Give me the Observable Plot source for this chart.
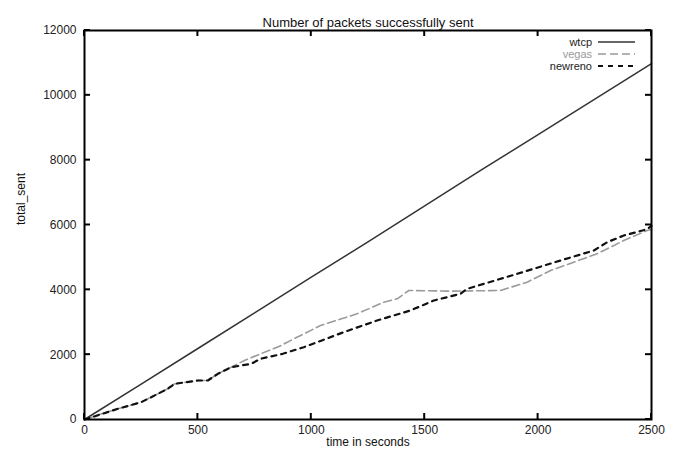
<!DOCTYPE html>
<html><head><meta charset="utf-8">
<script src="https://cdn.jsdelivr.net/npm/d3@7"></script>
<script src="https://cdn.jsdelivr.net/npm/@observablehq/plot@0.6"></script>
<style>
body{margin:0;background:#fff}
#chart svg{font-family:"Liberation Sans",Arial,Helvetica,sans-serif;}
</style>
</head><body><div id="chart"></div>
<script>
// ---- data ----
const title = "Number of packets successfully sent";
const xLabel = "time in seconds";
const yLabel = "total_sent";
const seriesNames = ["wtcp", "vegas", "newreno"];
const xTicks = [0, 500, 1000, 1500, 2000, 2500];
const yTicks = [0, 2000, 4000, 6000, 8000, 10000, 12000];

const wtcpTime = [0, 250, 500, 750, 1000, 1250, 1500, 1750, 2000, 2250, 2500];
const wtcpSent = [0, 1090, 2190, 3290, 4390, 5480, 6590, 7700, 8790, 9880, 10980];

const vegasTime = [0, 50, 147, 250, 294, 367, 397, 500, 544, 588, 647, 705, 776, 867, 923, 1041, 1202, 1320, 1379, 1430, 1614, 1834, 1952, 2055, 2260, 2378, 2481, 2500];
const vegasSent = [0, 120, 330, 534, 688, 947, 1100, 1203, 1203, 1410, 1614, 1820, 2026, 2283, 2489, 2900, 3261, 3619, 3723, 3980, 3960, 3980, 4236, 4597, 5111, 5522, 5831, 5860];

const newrenoTime = [0, 50, 147, 250, 294, 367, 397, 500, 544, 588, 647, 735, 776, 874, 967, 1143, 1290, 1437, 1540, 1658, 1687, 1908, 2099, 2246, 2305, 2378, 2481, 2500];
const newrenoSent = [0, 110, 330, 534, 688, 947, 1100, 1203, 1203, 1410, 1614, 1718, 1872, 2026, 2231, 2694, 3054, 3363, 3671, 3877, 4030, 4494, 4905, 5214, 5470, 5676, 5870, 5970];

// ---- styles ----
const seriesStroke = {wtcp: "#333333", vegas: "#9a9a9a", newreno: "#111111"};
const seriesDash = {wtcp: null, vegas: "8,4", newreno: "5,5"};
const seriesWidth = {wtcp: 1.5, vegas: 1.6, newreno: 2.2};
const labelColor = {wtcp: "#222", vegas: "#999", newreno: "#222"};

const toRows = (name, ts, vs) => ts.map((t, i) => ({series: name, time: t, sent: vs[i]}));
const table = {
  wtcp: toRows("wtcp", wtcpTime, wtcpSent),
  vegas: toRows("vegas", vegasTime, vegasSent),
  newreno: toRows("newreno", newrenoTime, newrenoSent)
};

function legendMark(index, scales, values, dims) {
  const g = d3.create("svg:g");
  const right = dims.width - dims.marginRight;
  seriesNames.forEach((name, i) => {
    const y = dims.marginTop + 12 + i * 12;
    g.append("text")
      .attr("x", right - 59).attr("y", y).attr("dy", "0.35em")
      .attr("text-anchor", "end").attr("font-size", 11)
      .attr("fill", labelColor[name]).text(name);
    g.append("line")
      .attr("x1", right - 53).attr("x2", right - 16)
      .attr("y1", y).attr("y2", y)
      .attr("stroke", seriesStroke[name])
      .attr("stroke-width", seriesWidth[name])
      .attr("stroke-dasharray", seriesDash[name]);
  });
  return g.node();
}

// inward tick marks on all four sides, positioned through Plot's scales
function innerTicks(index, scales, values, dims) {
  const g = d3.create("svg:g").attr("stroke", "#000").attr("stroke-width", 2);
  const L = dims.marginLeft, R = dims.width - dims.marginRight;
  const T = dims.marginTop, B = dims.height - dims.marginBottom;
  const len = 6;
  xTicks.forEach(t => {
    const x = scales.x(t);
    g.append("line").attr("x1", x).attr("x2", x).attr("y1", B).attr("y2", B - len);
    g.append("line").attr("x1", x).attr("x2", x).attr("y1", T).attr("y2", T + len);
  });
  yTicks.forEach(v => {
    const y = scales.y(v);
    g.append("line").attr("x1", L).attr("x2", L + len).attr("y1", y).attr("y2", y);
    g.append("line").attr("x1", R).attr("x2", R - len).attr("y1", y).attr("y2", y);
  });
  return g.node();
}

const fmt = d3.format("d");

const chart = Plot.plot({
  width: 677,
  height: 450,
  marginLeft: 84,
  marginRight: 26,
  marginTop: 30,
  marginBottom: 31,
  style: {fontSize: "12px", color: "#222", background: "#fff"},
  x: {domain: [0, 2500]},
  y: {domain: [0, 12000]},
  marks: [
    ...seriesNames.map(name => Plot.line(table[name], {
      x: "time", y: "sent",
      stroke: seriesStroke[name],
      strokeWidth: seriesWidth[name],
      strokeDasharray: seriesDash[name]
    })),
    Plot.axisX(xTicks, {tickSize: 0, tickPadding: 6, tickFormat: fmt, label: null, fontSize: 12}),
    Plot.axisY(yTicks, {tickSize: 0, tickPadding: 8, tickFormat: fmt, label: null, fontSize: 12}),
    innerTicks,
    Plot.frame({stroke: "#000", strokeWidth: 2}),
    Plot.text([title], {text: d => d, frameAnchor: "top", dy: -13, fontSize: 13, fill: "#111"}),
    Plot.text([xLabel], {text: d => d, frameAnchor: "bottom", dy: 26, fontSize: 12, fill: "#111"}),
    Plot.text([yLabel], {text: d => d, frameAnchor: "left", dx: -63, rotate: -90, fontSize: 12, fill: "#111"}),
    legendMark
  ]
});
document.getElementById("chart").appendChild(chart);
</script>
</body></html>
